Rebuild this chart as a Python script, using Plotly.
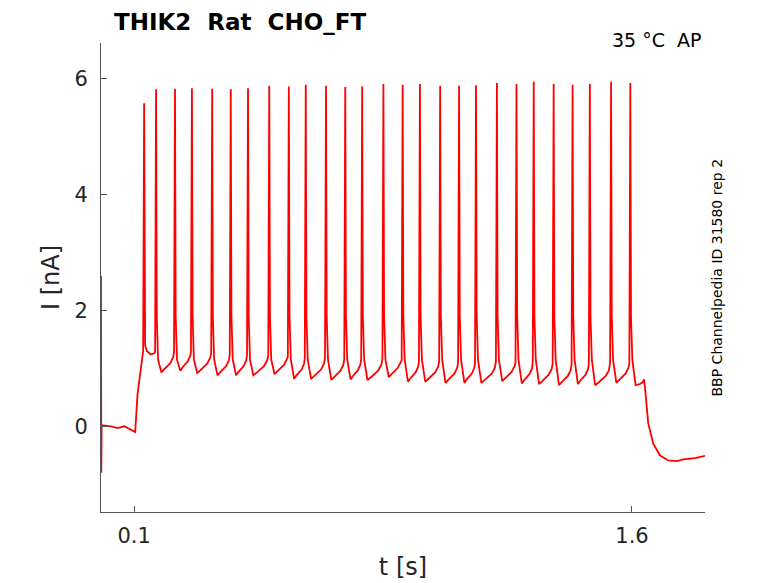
import plotly.graph_objects as go

# ---- data ----
# initial artifact and baseline before the step
pre_t = [0.0, 0.0008, 0.002, 0.03, 0.05, 0.07, 0.09, 0.103, 0.110, 0.127]
pre_i = [2.6, -0.8, 0.02, 0.0, -0.03, 0.0, -0.06, -0.10, 0.55, 1.30]

# action-potential-like spikes
spike_t = [0.130, 0.166, 0.223, 0.274, 0.335, 0.391, 0.443, 0.507, 0.566,
           0.617, 0.678, 0.736, 0.787, 0.851, 0.909, 0.961, 1.022, 1.079,
           1.130, 1.193, 1.252, 1.304, 1.364, 1.421, 1.473, 1.537, 1.595]
spike_peak = [5.58, 5.82, 5.83, 5.84, 5.83, 5.82, 5.84, 5.88, 5.87,
              5.90, 5.88, 5.86, 5.87, 5.91, 5.90, 5.91, 5.88, 5.88,
              5.89, 5.93, 5.91, 5.95, 5.91, 5.90, 5.91, 5.95, 5.93]
# minimum reached after each spike
trough_val = [1.25, 0.93, 0.96, 0.92, 0.88, 0.88, 0.88, 0.90, 0.82,
              0.82, 0.80, 0.81, 0.80, 0.85, 0.77, 0.77, 0.75, 0.75,
              0.75, 0.78, 0.74, 0.73, 0.71, 0.73, 0.71, 0.75, 0.71]
# level just before each spike upstroke
foot_val = [1.30, 1.28, 1.28, 1.28, 1.26, 1.24, 1.24, 1.22, 1.20,
            1.18, 1.18, 1.16, 1.16, 1.16, 1.14, 1.12, 1.12, 1.10,
            1.10, 1.12, 1.10, 1.10, 1.08, 1.08, 1.08, 1.10, 1.08]

# after the last spike: small bump at step end and decay to holding level
post_t = [1.624, 1.632, 1.636, 1.639, 1.649, 1.664, 1.684, 1.709, 1.735,
          1.755, 1.790, 1.820]
post_i = [0.73, 0.76, 0.81, 0.68, 0.05, -0.30, -0.50, -0.59, -0.60,
          -0.57, -0.55, -0.51]

x_ticks = [0.1, 1.6]
x_tick_text = ["0.1", "1.6"]
y_ticks = [0, 2, 4, 6]

# ---- assemble trace vertices ----
t = list(pre_t)
y = list(pre_i)
n = len(spike_t)
for k in range(n):
    ts = spike_t[k]
    if k > 0:
        t.append(ts - 0.003)
        y.append(foot_val[k])
    t.append(ts)
    y.append(spike_peak[k])
    tr = trough_val[k]
    if k == 0:
        t += [ts + 0.003, ts + 0.008, ts + 0.02, ts + 0.030]
        y += [1.40, 1.30, 1.24, 1.26]
        continue
    t += [ts + 0.002, ts + 0.006, ts + 0.016]
    y += [1.9, 1.15, tr]
    if k + 1 < n:
        d = spike_t[k + 1] - ts
        t += [ts + 0.45 * d, ts + 0.75 * d, ts + 0.9 * d]
        y += [tr + 0.06, tr + 0.16, tr + 0.26]
t += post_t
y += post_i

fig = go.Figure()
fig.add_trace(go.Scatter(x=t, y=y, mode="lines",
                         line=dict(color="#ff0000", width=1.8),
                         showlegend=False, hoverinfo="skip"))

txt = "#262626"
axis_font = dict(family="DejaVu Sans", size=21, color=txt)
title_font = dict(family="DejaVu Sans", size=24, color=txt)
fig.update_layout(
    width=778, height=583,
    margin=dict(l=93, r=81, t=35, b=79),
    paper_bgcolor="white", plot_bgcolor="white",
    font=dict(family="DejaVu Sans", color=txt),
    xaxis=dict(range=[0.0, 1.82], tickvals=x_ticks, ticktext=x_tick_text,
               ticks="inside", ticklen=6, tickcolor="#555555",
               showline=True, linecolor="#555555", linewidth=1,
               showgrid=False, zeroline=False, tickfont=axis_font,
               ticklabelstandoff=5,
               title=dict(text="t [s]", font=title_font, standoff=10)),
    yaxis=dict(range=[-1.48, 6.62], tickvals=y_ticks,
               ticks="inside", ticklen=6, tickcolor="#555555",
               showline=True, linecolor="#555555", linewidth=1,
               showgrid=False, zeroline=False, tickfont=axis_font,
               ticklabelstandoff=8,
               title=dict(text="I [nA]", font=title_font, standoff=8)),
)
fig.add_annotation(text="<b>THIK2  Rat  CHO_FT</b>", xref="paper", yref="paper",
                   x=0.0, y=1.0, xshift=12, yshift=35, xanchor="left", yanchor="top",
                   borderpad=0, showarrow=False,
                   font=dict(family="DejaVu Sans", size=23, color="black"))
fig.add_annotation(text="35 °C  AP", xref="paper", yref="paper",
                   x=1.0, y=1.0, xshift=-1, yshift=3, xanchor="right", yanchor="middle",
                   showarrow=False, font=dict(family="DejaVu Sans", size=19, color="black"))
fig.add_annotation(text="BBP Channelpedia ID 31580 rep 2", xref="paper", yref="paper",
                   x=1.0, y=0.5, xshift=11, xanchor="center", yanchor="middle", textangle=-90,
                   showarrow=False, font=dict(family="DejaVu Sans", size=14, color="black"))

fig.write_html("out.html")
